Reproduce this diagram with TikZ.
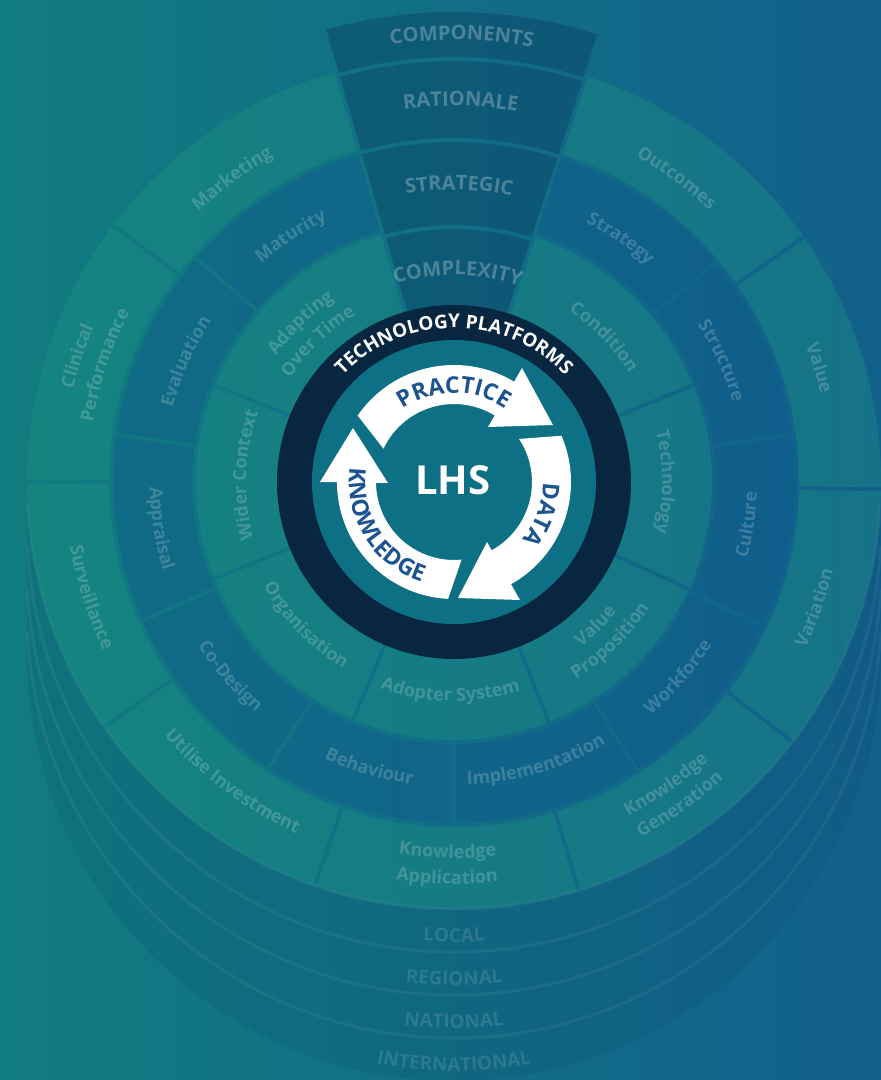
\documentclass[tikz,border=0pt]{standalone}
\usepackage{fontspec}
\setmainfont{Open Sans}
\usetikzlibrary{decorations.text}

\definecolor{bgleft}{RGB}{17,124,128}
\definecolor{bgright}{RGB}{18,96,140}
\definecolor{seggreen}{RGB}{30,150,130}
\definecolor{segblue}{RGB}{15,88,140}
\definecolor{wedgeblue}{RGB}{8,60,95}
\definecolor{ringdark}{RGB}{8,38,63}
\definecolor{innerteal}{RGB}{14,112,132}
\definecolor{arrowtext}{RGB}{27,84,144}

\newcommand{\labfont}{\bfseries\fontsize{18}{18}\selectfont\color{white}}
\newcommand{\capfont}{\bfseries\fontsize{20}{20}\selectfont\color{white}}
\newcommand{\cyclefont}{\bfseries\fontsize{23}{23}\selectfont\color{arrowtext}}
\newcommand{\platfont}{\bfseries\fontsize{19}{19}\selectfont\color{white}}

\newcommand{\ringseg}[5]{%
  \pgfmathsetmacro{\segdin}{asin(2/#3)}%
  \pgfmathsetmacro{\segdout}{asin(2/#4)}%
  \fill[#5] ({#1+\segdout}:#4) arc[start angle={#1+\segdout}, end angle={#2-\segdout}, radius=#4]
    -- ({#2-\segdin}:#3) arc[start angle={#2-\segdin}, end angle={#1+\segdin}, radius=#3] -- cycle;}

\newcommand{\arclab}[4]{%
  \pgfmathtruncatemacro{\labup}{((#1>=0)&&(#1<=180))}%
  \ifnum\labup=1
    \path[decorate, decoration={text along path, text align=center, text={|#3|#4}}]
      ({#1+70}:{#2-6}) arc[start angle={#1+70}, end angle={#1-70}, radius={#2-6}];
  \else
    \path[decorate, decoration={text along path, text align=center, text={|#3|#4}}]
      ({#1-70}:{#2+6}) arc[start angle={#1-70}, end angle={#1+70}, radius={#2+6}];
  \fi}

\begin{document}
\begin{tikzpicture}[x=1pt, y=1pt,
    greenseg/.style={fill=seggreen, fill opacity=0.35},
    blueseg/.style={fill=segblue, fill opacity=0.4},
    wedgeseg/.style={fill=wedgeblue, fill opacity=0.4},
    layerfill/.style={fill=wedgeblue, fill opacity=0.13},
    layerline/.style={draw=white, draw opacity=0.06, line width=3}]

\useasboundingbox (-454,-598) rectangle (427,482);
\shade[left color=bgleft, right color=bgright] (-454,-598) rectangle (427,482);

% stacked levels under the wheel
\foreach \k in {4,3,2,1}{
  \fill[layerfill] ({427*cos(2.886)},{21.5-43*\k})
    arc[start angle=2.886, end angle=-182.886, radius=427]
    arc[start angle=182.886, end angle=357.114, radius=427] -- cycle;
  \draw[layerline] ({-427*cos(2.886)},{21.5-43*\k})
    arc[start angle=182.886, end angle=357.114, radius=427];
}

% rings
\foreach \angA/\angB in {22/72, -24.5/22, -68.5/-24.5, -113/-68.5, -158/-113, 158/202, 106/158}
  {\ringseg{\angA}{\angB}{170}{258}{greenseg}}
\foreach \angA/\angB in {40/72, 8/40, -25/8, -57.5/-25, -90/-57.5, -123/-90, -156/-123, 172/204, 139/172, 106/139}
  {\ringseg{\angA}{\angB}{262}{341}{blueseg}}
\foreach \angA/\angB in {35/72, -1/35, -37.5/-1, -73/-37.5, -109/-73, -145/-109, 180/215, 143/180, 106/143}
  {\ringseg{\angA}{\angB}{345}{427}{greenseg}}
\foreach \rin/\rout in {170/253, 257/340, 344/421, 425/470}
  {\ringseg{72}{106}{\rin}{\rout}{wedgeseg}}

\begin{scope}[fill opacity=0.26]
  \arclab{89}{448}{\capfont}{COMPONENTS}
  \arclab{89}{382}{\capfont}{RATIONALE}
  \arclab{89}{298}{\capfont}{STRATEGIC}
  \arclab{89}{213}{\capfont}{COMPLEXITY}
\end{scope}

\begin{scope}[fill opacity=0.19]
  \arclab{44}{212}{\labfont}{Condition}
  \arclab{0}{214}{\labfont}{Technology}
  \arclab{-45.5}{202}{\labfont}{Value}
  \arclab{-45.5}{226}{\labfont}{Proposition}
  \arclab{-91}{213}{\labfont}{Adopter System}
  \arclab{224}{211}{\labfont}{Organisation}
  \arclab{178}{214}{\labfont}{Wider Context}
  \arclab{134}{224}{\labfont}{Adapting}
  \arclab{134}{200}{\labfont}{Over Time}
  \arclab{55.6}{297}{\labfont}{Strategy}
  \arclab{24.4}{296}{\labfont}{Structure}
  \arclab{-8.3}{297}{\labfont}{Culture}
  \arclab{-41}{299}{\labfont}{Workforce}
  \arclab{-73.7}{297}{\labfont}{Implementation}
  \arclab{253.5}{299}{\labfont}{Behaviour}
  \arclab{221}{298}{\labfont}{Co-Design}
  \arclab{189}{298}{\labfont}{Appraisal}
  \arclab{155.8}{297}{\labfont}{Evaluation}
  \arclab{123.6}{297}{\labfont}{Maturity}
  \arclab{53.8}{379}{\labfont}{Outcomes}
  \arclab{17.3}{383}{\labfont}{Value}
  \arclab{-19.2}{383}{\labfont}{Variation}
  \arclab{-55}{371}{\labfont}{Knowledge}
  \arclab{-55}{395}{\labfont}{Generation}
  \arclab{-91}{370}{\labfont}{Knowledge}
  \arclab{-91}{396}{\labfont}{Application}
  \arclab{233.5}{379}{\labfont}{Utilise Investment}
  \arclab{197.6}{383}{\labfont}{Surveillance}
  \arclab{161.5}{398}{\labfont}{Clinical}
  \arclab{161.5}{372}{\labfont}{Performance}
  \arclab{126.2}{378}{\labfont}{Marketing}
\end{scope}

\begin{scope}[fill opacity=0.12]
  \foreach \k/\lname in {1/LOCAL, 2/REGIONAL, 3/NATIONAL, 4/INTERNATIONAL}{
    \begin{scope}[shift={(0,{-43*\k})}]
      \arclab{270}{411}{\platfont}{\lname}
    \end{scope}
  }
\end{scope}

% centre
\fill[ringdark] (0,0) circle[radius=177];
\fill[innerteal] (0,0) circle[radius=142];
\path[decorate, decoration={text along path, text align=center, text={|\platfont|TECHNOLOGY PLATFORMS}}]
  (170:154) arc[start angle=170, end angle=10, radius=154];

\coordinate (ptop) at (68,114);
\coordinate (pleft) at (34,55);
\coordinate (pright) at (99,57);
\coordinate (dtop) at (33,-60);
\coordinate (dleft) at (4,-116);
\coordinate (dright) at (66,-118);
\coordinate (ktop) at (-101,54);
\coordinate (kleft) at (-134,0);
\coordinate (kright) at (-66,-1);

\fill[white] (145.4:117) arc[start angle=145.4, end angle=55, radius=117]
  -- (55:78) arc[start angle=55, end angle=154.7, radius=78] -- cycle;
\fill[white] (ptop) -- (pleft) -- (pright) -- cycle;
\fill[white] (23.3:117) arc[start angle=23.3, end angle=-70, radius=117]
  -- (-70:78) arc[start angle=-70, end angle=33.5, radius=78] -- cycle;
\fill[white] (dtop) -- (dleft) -- (dright) -- cycle;
\fill[white] (-92.9:117) arc[start angle=-92.9, end angle=-190, radius=117]
  -- (-190:78) arc[start angle=-190, end angle=-84.4, radius=78] -- cycle;
\fill[white] (ktop) -- (kleft) -- (kright) -- cycle;

\path[decorate, decoration={text along path, text align=center, text={|\cyclefont|PRACTICE}}]
  (150:89) arc[start angle=150, end angle=30, radius=89];
\path[decorate, decoration={text along path, text align=center, text={|\cyclefont|DATA}}]
  (40:89) arc[start angle=40, end angle=-80, radius=89];
\path[decorate, decoration={text along path, text align=center, text={|\cyclefont|KNOWLEDGE}}]
  (152:105) arc[start angle=152, end angle=272, radius=105];

\node[font=\bfseries\fontsize{40}{40}\selectfont, text=white, inner sep=0] (lhs) at (-1,2) {LHS};
\end{tikzpicture}
\end{document}
